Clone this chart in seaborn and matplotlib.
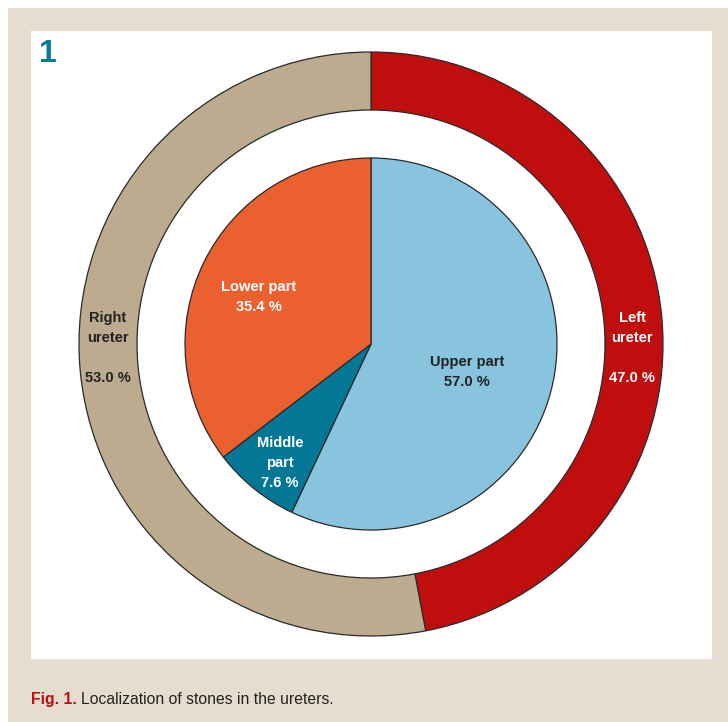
import matplotlib
matplotlib.use("Agg")
import matplotlib.pyplot as plt
from matplotlib.patches import Rectangle
import seaborn as sns

# ---- data ----
ring_labels = ["Left ureter", "Right ureter"]
ring_values = [47.0, 53.0]
inner_labels = ["Upper part", "Middle part", "Lower part"]
inner_values = [57.0, 7.6, 35.4]

ring_colors = ["#c00e0e", "#bcab8e"]
inner_colors = ["#88c4de", "#047797", "#eb602f"]

sns.set_style("white")
plt.rcParams["font.family"] = ["Liberation Sans", "DejaVu Sans"]

W, H = 728, 722
fig = plt.figure(figsize=(W / 100, H / 100), dpi=100)
fig.patch.set_facecolor("white")

# background panels
fig.add_artist(Rectangle((8 / W, 0), (W - 8) / W, (H - 8) / H,
                         transform=fig.transFigure, facecolor="#e6dccf",
                         edgecolor="none", zorder=0))
fig.add_artist(Rectangle((31 / W, (H - 659) / H), 681 / W, 628 / H,
                         transform=fig.transFigure, facecolor="white",
                         edgecolor="none", zorder=0))

# pie axes: center (371, 344) px, outer radius 292 px
cx, cy, R = 371, 344, 292
ax = fig.add_axes([(cx - R) / W, (H - cy - R) / H, 2 * R / W, 2 * R / H])
ax.set_facecolor("none")
ax.patch.set_alpha(0)

edge = dict(edgecolor="#2a2a2a", linewidth=0.9)
w1, _ = ax.pie(ring_values, colors=ring_colors, startangle=90, counterclock=False,
               radius=1.0, wedgeprops=dict(width=(292 - 234) / 292, **edge))
w2, _ = ax.pie(inner_values, colors=inner_colors, startangle=90, counterclock=False,
               radius=186 / 292, wedgeprops=dict(**edge))
for w in list(w1) + list(w2):
    w.set_clip_on(False)
ax.set_xlim(-1, 1)
ax.set_ylim(-1, 1)
ax.set_aspect("auto")
ax.axis("off")

def px(x, y):
    return ((x - cx) / R, (cy - y) / R)

fs = 10.5
ls = 1.55

def put(txt, x, y, color):
    dx, dy = px(x, y)
    ax.text(dx, dy, txt, ha="center", va="center", color=color,
            fontsize=fs, fontweight="bold", linespacing=ls)

def ring_txt(name, v):
    return "\n".join(name.split(" ")) + "\n\n" + f"{v:.1f} %"

put(ring_txt(ring_labels[0], ring_values[0]), 632, 348, "white")
put(ring_txt(ring_labels[1], ring_values[1]), 108, 348, "#222222")

put(f"{inner_labels[0]}\n{inner_values[0]:.1f} %", 467, 372, "#222222")
put("\n".join(inner_labels[1].split(" ")) + f"\n{inner_values[1]:.1f} %", 280, 463, "white")
put(f"{inner_labels[2]}\n{inner_values[2]:.1f} %", 259, 297, "white")

# panel number
fig.text(39 / W, 1 - 62 / H, "1", color="#0a7a96", fontsize=23,
         fontweight="bold", ha="left", va="baseline")

# caption
t1 = fig.text(31 / W, 1 - 704 / H, "Fig. 1.", color="#c00e0e", fontsize=11.3,
              fontweight="bold", ha="left", va="baseline")
fig.canvas.draw()
bb = t1.get_window_extent()
fig.text((bb.x1 + 4) / W, 1 - 704 / H, "Localization of stones in the ureters.",
         color="#222222", fontsize=11.3, ha="left", va="baseline")

fig.savefig("out.png", dpi=100, facecolor=fig.get_facecolor())
